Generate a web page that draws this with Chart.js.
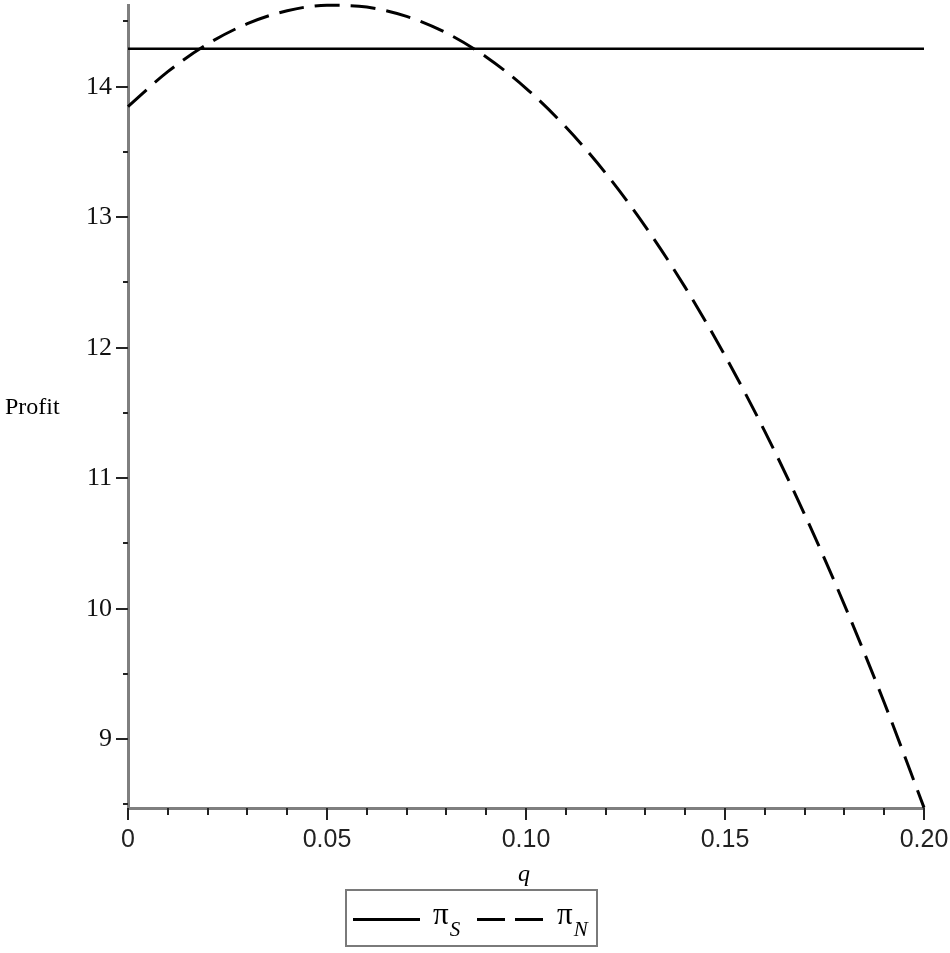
<!DOCTYPE html>
<html>
<head>
<meta charset="utf-8">
<script src="https://cdn.jsdelivr.net/npm/chart.js@4"></script>
<style>
  body { margin: 0; background: #fff; }
  #wrap { position: relative; width: 950px; height: 953px; }
  #profitChart { position: absolute; left: 0; top: 0; }
  .lbl { position: absolute; font-family: "Liberation Serif", serif; color: #000; white-space: nowrap; }
  #yTitle { left: 5px; top: 391px; font-size: 24px; line-height: 30px; }
  #xTitle { left: 518px; top: 858px; font-size: 24px; line-height: 30px; font-style: italic; }
  #legend { position: absolute; left: 345px; top: 889px; width: 253px; height: 58px;
            box-sizing: border-box; border: 2px solid #7a7a7a; }
  .sample { position: absolute; height: 3px; background: #000; top: 27px; }
  .pi { position: absolute; top: 6px; font-family: "Liberation Serif", serif; font-size: 31px; line-height: 34px; }
  .pi sub { font-style: italic; font-size: 21px; vertical-align: -12px; margin-left: 1px; }
</style>
</head>
<body>
<div id="wrap">
  <canvas id="profitChart" width="950" height="953"></canvas>
  <div class="lbl" id="yTitle">Profit</div>
  <div class="lbl" id="xTitle">q</div>
  <div id="legend">
    <div class="sample" style="left:6px;width:67px"></div>
    <div class="pi" style="left:86px">π<sub>S</sub></div>
    <div class="sample" style="left:130px;width:28px"></div>
    <div class="sample" style="left:168px;width:28px"></div>
    <div class="pi" style="left:210px">π<sub>N</sub></div>
  </div>
</div>
<script>
// q values and the two profit curves
const qValues = [0, 0.01, 0.02, 0.03, 0.04, 0.05, 0.06, 0.07, 0.08, 0.09, 0.10,
                 0.11, 0.12, 0.13, 0.14, 0.15, 0.16, 0.17, 0.18, 0.19, 0.20];
const profitN = [13.847, 14.115, 14.327, 14.483, 14.582, 14.624, 14.610, 14.539, 14.412, 14.228, 13.988,
                 13.691, 13.338, 12.928, 12.462, 11.939, 11.359, 10.723, 10.030, 9.281, 8.476];
const qS = [0, 0.20];
const profitS = [14.29, 14.29];

const yMin = 8.473, yMax = 14.626;
const xTicks = [0, 0.05, 0.10, 0.15, 0.20];
const xTickLabels = ['0', '0.05', '0.10', '0.15', '0.20'];
const yTicks = [9, 10, 11, 12, 13, 14];

// Maple style tick marks (major + minor), drawn on the library's scales
const tickMarks = {
    id: 'tickMarks',
    afterDraw(chart) {
        const ctx = chart.ctx;
        const xs = chart.scales.x, ys = chart.scales.y;
        const left = chart.chartArea.left, bottom = chart.chartArea.bottom;
        ctx.save();
        ctx.strokeStyle = '#222';
        ctx.lineWidth = 2;
        for (let i = 0; i <= 20; i++) {
            const v = i / 100;
            const px = Math.round(xs.getPixelForValue(v));
            const len = (i % 5 === 0) ? 12 : 7;
            ctx.beginPath();
            ctx.moveTo(px, bottom);
            ctx.lineTo(px, bottom + len);
            ctx.stroke();
        }
        for (let i = 17; i <= 29; i++) {
            const v = i / 2;
            const py = Math.round(ys.getPixelForValue(v));
            const len = (i % 2 === 0) ? 12 : 5;
            ctx.beginPath();
            ctx.moveTo(left - len, py);
            ctx.lineTo(left, py);
            ctx.stroke();
        }
        ctx.restore();
    }
};

const ctx = document.getElementById('profitChart').getContext('2d');
new Chart(ctx, {
    type: 'line',
    data: {
        datasets: [
            {
                label: 'πS',
                data: qS.map((q, i) => ({x: q, y: profitS[i]})),
                borderColor: '#000',
                borderWidth: 2.5,
                pointRadius: 0,
                fill: false
            },
            {
                label: 'πN',
                data: qValues.map((q, i) => ({x: q, y: profitN[i]})),
                borderColor: '#000',
                borderWidth: 3,
                borderDash: [25, 11],
                cubicInterpolationMode: 'monotone',
                pointRadius: 0,
                fill: false,
                clip: false
            }
        ]
    },
    options: {
        responsive: false,
        animation: false,
        layout: { padding: { top: 5, right: 26, left: 0, bottom: 0 } },
        plugins: { legend: { display: false }, tooltip: { enabled: false } },
        scales: {
            x: {
                type: 'linear',
                min: 0,
                max: 0.2,
                afterBuildTicks: (scale) => { scale.ticks = xTicks.map(v => ({value: v})); },
                afterFit: (scale) => { scale.height = 145; scale.paddingLeft = 0; scale.paddingRight = 0; },
                grid: { display: false, drawTicks: false },
                border: { display: true, color: '#7f7f7f', width: 3 },
                ticks: {
                    padding: 17,
                    color: '#222',
                    maxRotation: 0,
                    autoSkip: false,
                    font: { family: 'Liberation Sans', size: 25 },
                    callback: (v, i) => xTickLabels[i]
                }
            },
            y: {
                type: 'linear',
                min: yMin,
                max: yMax,
                afterBuildTicks: (scale) => { scale.ticks = yTicks.map(v => ({value: v})); },
                afterFit: (scale) => { scale.width = 128; scale.paddingTop = 0; scale.paddingBottom = 0; },
                grid: { display: false, drawTicks: false },
                border: { display: true, color: '#7f7f7f', width: 3 },
                ticks: {
                    padding: 16,
                    color: '#111',
                    autoSkip: false,
                    font: { family: 'Liberation Serif', size: 26 },
                    callback: (v) => String(v)
                }
            }
        }
    },
    plugins: [tickMarks]
});
</script>
</body>
</html>
